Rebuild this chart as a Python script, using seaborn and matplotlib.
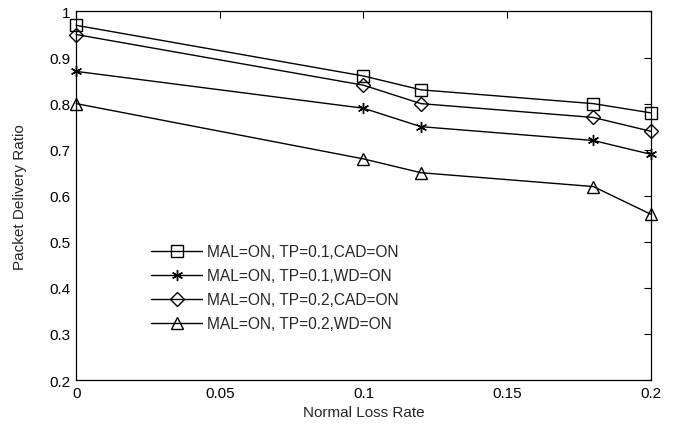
import matplotlib
matplotlib.use("Agg")
import matplotlib.pyplot as plt
import seaborn as sns
import pandas as pd

x_vals = [0, 0.1, 0.12, 0.18, 0.2]
s_cad01 = [0.97, 0.86, 0.83, 0.80, 0.78]
s_wd01 = [0.87, 0.79, 0.75, 0.72, 0.69]
s_cad02 = [0.95, 0.84, 0.80, 0.77, 0.74]
s_wd02 = [0.80, 0.68, 0.65, 0.62, 0.56]
labels = ["MAL=ON, TP=0.1,CAD=ON", "MAL=ON, TP=0.1,WD=ON",
          "MAL=ON, TP=0.2,CAD=ON", "MAL=ON, TP=0.2,WD=ON"]
markers = ["s", (6, 2, 0), "D", "^"]
xticks = [0, 0.05, 0.1, 0.15, 0.2]
yticks = [0.2, 0.3, 0.4, 0.5, 0.6, 0.7, 0.8, 0.9, 1]

sns.set_style("white")
plt.rcParams["font.family"] = ["Liberation Sans", "DejaVu Sans"]

rows = []
for lab, ys in zip(labels, [s_cad01, s_wd01, s_cad02, s_wd02]):
    for xv, yv in zip(x_vals, ys):
        rows.append({"x": xv, "y": yv, "series": lab})
df = pd.DataFrame(rows)

fig = plt.figure(figsize=(6.93, 4.31), dpi=100)
ax = fig.add_axes([0.110, 0.116, 0.829, 0.855])

for lab, mk in zip(labels, markers):
    sub = df[df["series"] == lab]
    ms = 8
    if mk == "D":
        ms = 7
    if mk == "^":
        ms = 9
    sns.lineplot(data=sub, x="x", y="y", ax=ax, color="black", linewidth=1.0,
                 marker=mk, markersize=ms, markerfacecolor="none",
                 markeredgecolor="black", markeredgewidth=1.0, label=lab,
                 legend=False, sort=False, clip_on=False)

ax.set_xlim(0, 0.2)
ax.set_ylim(0.2, 1)
ax.set_xticks(xticks)
ax.set_xticklabels(["0", "0.05", "0.1", "0.15", "0.2"])
ax.set_yticks(yticks)
ax.set_yticklabels(["0.2", "0.3", "0.4", "0.5", "0.6", "0.7", "0.8", "0.9", "1"])
ax.tick_params(direction="in", top=True, right=True, length=5, width=0.8,
               labelsize=11, colors="black", pad=4)
for sp in ax.spines.values():
    sp.set_visible(True)
    sp.set_color("black")
    sp.set_linewidth(0.9)
ax.set_xlabel("Normal Loss Rate", fontsize=11)
ax.set_ylabel("Packet Delivery Ratio", fontsize=11, labelpad=16)

handles, labs = ax.get_legend_handles_labels()
leg = ax.legend(handles, labs, loc="upper left", bbox_to_anchor=(0.13, 0.368),
                frameon=False, fontsize=11.2, handlelength=3.3,
                handletextpad=0.3, labelspacing=0.58, borderaxespad=0,
                borderpad=0)

fig.savefig("out.png", dpi=100)
